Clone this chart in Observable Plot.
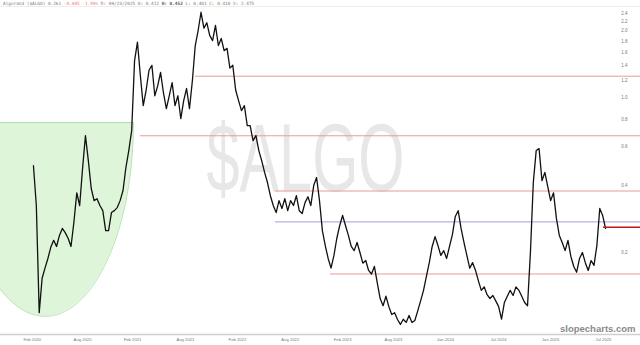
<!DOCTYPE html>
<html><head><meta charset="utf-8">
<script src="https://cdn.jsdelivr.net/npm/d3@7"></script>
<script src="https://cdn.jsdelivr.net/npm/@observablehq/plot@0.6"></script>
<style>
html,body{margin:0;padding:0;background:#fff;}
#wrap{position:relative;width:640px;height:345px;overflow:hidden;}
#hdr{position:absolute;left:3px;top:1px;font-family:"DejaVu Sans Mono",monospace;font-size:4.4px;color:#777;white-space:pre;line-height:6px;}
#hdr .neg{color:#e77;}
#hdr b{color:#555;}
</style>
</head><body>
<div id="wrap"><div id="chart"></div><div id="hdr"></div></div>
<script>
// ---- data ----
const seriesStart = "2020-02-25";   // first sample
const stepDays = 10;                 // spacing of samples
const price = [
0.494,0.326,0.107,0.153,0.170,0.188,0.211,0.227,0.213,0.239,
0.257,0.246,0.232,0.213,0.274,0.372,0.326,0.479,0.674,0.520,
0.389,0.343,0.350,0.326,0.309,0.251,0.251,0.303,0.309,0.319,
0.343,0.381,0.484,0.577,0.710,1.47,1.78,1.26,0.921,1.08,
1.33,1.40,1.02,1.13,1.30,1.05,0.893,1.02,1.17,0.921,
1.02,0.805,0.970,1.10,0.893,1.19,1.72,2.01,2.43,2.06,
2.18,1.91,1.81,2.12,1.72,1.85,1.63,1.67,1.36,1.40,
1.08,0.970,0.874,0.921,0.748,0.748,0.640,0.674,0.577,0.520,
0.460,0.414,0.361,0.326,0.303,0.343,0.316,0.350,0.309,0.343,
0.326,0.361,0.309,0.300,0.336,0.357,0.326,0.401,0.436,0.343,
0.251,0.215,0.188,0.170,0.194,0.232,0.265,0.294,0.265,0.239,
0.213,0.204,0.222,0.200,0.179,0.184,0.166,0.160,0.173,0.146,
0.124,0.115,0.127,0.114,0.105,0.107,0.0997,0.0947,0.100,0.0967,
0.104,0.0967,0.0987,0.109,0.121,0.135,0.156,0.180,0.213,0.236,
0.215,0.194,0.204,0.188,0.213,0.241,0.291,0.309,0.257,0.222,
0.194,0.170,0.180,0.166,0.149,0.135,0.140,0.129,0.124,0.128,
0.121,0.114,0.100,0.119,0.127,0.135,0.128,0.140,0.135,0.127,
0.119,0.115,0.200,0.414,0.577,0.589,0.422,0.460,0.397,0.343,
0.372,0.285,0.239,0.222,0.204,0.227,0.192,0.173,0.163,0.188,
0.200,0.180,0.166,0.184,0.175,0.215,0.316,0.294,0.257
];
const tickDates = ["2020-02-21","2020-08-13","2021-02-02","2021-08-04","2022-01-31","2022-08-02",
                   "2023-01-30","2023-07-25","2024-01-21","2024-07-23","2025-01-19","2025-07-21"];
const tickLabels = ["Feb 2020","Aug 2020","Feb 2021","Aug 2021","Feb 2022","Aug 2022",
                    "Feb 2023","Aug 2023","Jan 2024","Jul 2024","Jan 2025","Jul 2025"];
const yTicks = [0.2,0.4,0.6,0.8,1.0,1.2,1.4,1.6,1.8,2.0,2.2,2.4];
const levelValues = [1.25, 0.673, 0.379, 0.16];
const levelStarts = ["2021-09-08","2021-03-01","2022-06-12","2022-12-19"];
const blueLevel = [0.275];
const blueStart = "2022-06-12";
const lastPrice = [0.26];
const lastStart = "2025-07-21";
// cup annotation (rim price, bottom price, centre date, half width in days, right end)
const cupRim = 0.772, cupBottom = 0.103, cupCenter = "2020-04-06", cupRadiusDays = 305, cupRight = "2021-02-05";
const xStart = "2019-11-03", xEnd = "2025-11-26";
const yDomain = [0.0853, 2.58];

// ---- build ----
const parse = d3.utcParse("%Y-%m-%d");
const t0 = parse(seriesStart);
const series = price.map((v, i) => ({date: d3.utcDay.offset(t0, i * stepDays), v}));
const xDomain = [parse(xStart), parse(xEnd)];
const levels = levelValues.map((v, i) => ({v, start: parse(levelStarts[i])}));

const cc = parse(cupCenter), cr = parse(cupRight);
const lr = Math.log(cupRim), lb = Math.log(cupBottom);
const cupData = d3.utcDay.range(xDomain[0], d3.utcDay.offset(cr, 1), 1).map(d => {
  const u = (d - cc) / (cupRadiusDays * 864e5);
  const s = Math.sqrt(Math.max(0, 1 - u * u));
  return {date: d, low: Math.exp(lr - (lr - lb) * s)};
});

const font = "Liberation Sans, Arial, sans-serif";
const chart = Plot.plot({
  width: 640, height: 345,
  marginTop: 6, marginBottom: 11, marginLeft: 0, marginRight: 0,
  style: {fontFamily: font, background: "#fff"},
  x: {type: "utc", domain: xDomain, axis: null},
  y: {type: "log", domain: yDomain, axis: null},
  marks: [
    Plot.frame({anchor: "top", stroke: "#f3ece4"}),
    Plot.areaY(cupData, {x: "date", y1: "low", y2: cupRim, fill: "#dff5da", curve: "linear"}),
    Plot.line(cupData, {x: "date", y: "low", stroke: "#9fd699", strokeWidth: 0.8}),
    Plot.ruleY([cupRim], {x1: xDomain[0], x2: cr, stroke: "#9fd699", strokeWidth: 0.8}),
    Plot.text(["$ALGO"], {frameAnchor: "middle", dx: -15, dy: -10, fontSize: 96, fill: "#e7e7e7",
      textAnchor: "middle", lineAnchor: "middle", className: "wm", fontFamily: font}),
    Plot.ruleY(levels, {y: "v", x1: "start", x2: xDomain[1], stroke: "#e99a9a", strokeWidth: 1}),
    Plot.ruleY(blueLevel, {y: d => d, x1: parse(blueStart), x2: xDomain[1], stroke: "#a0a0d8", strokeWidth: 1}),
    Plot.line(series, {x: "date", y: "v", stroke: "#111", strokeWidth: 1.3}),
    Plot.ruleY(lastPrice, {y: d => d, x1: parse(lastStart), x2: xDomain[1], stroke: "#c01818", strokeWidth: 1.6}),
    Plot.text(yTicks, {y: d => d, text: d => d.toFixed(1), frameAnchor: "right", dx: -13, fontSize: 4.5, fill: "#777"}),
    Plot.frame({anchor: "bottom", stroke: "#cfcfcf", strokeWidth: 1.5}),
    Plot.text(tickDates, {x: d => parse(d), text: (d, i) => tickLabels[i], frameAnchor: "bottom", dy: 6, fontSize: 4.2, fill: "#777"}),
    Plot.text(["slopecharts.com"], {frameAnchor: "bottom-right", dx: -5, dy: -3, fontSize: 9.5, fontWeight: "bold", fill: "#8a8a8a", textAnchor: "end", lineAnchor: "bottom"})
  ]
});
document.getElementById("chart").appendChild(chart);
d3.select(chart).selectAll(".wm text").attr("textLength", 198).attr("lengthAdjust", "spacingAndGlyphs");

document.getElementById("hdr").innerHTML =
  'Algorand ($ALGO) 0.261 <span class="neg">-0.005 -1.99%</span> D: 09/23/2025 O: 0.412 <b>H: 0.452</b> L: 0.401 C: 0.410 V: 2.475';
</script>
</body></html>
